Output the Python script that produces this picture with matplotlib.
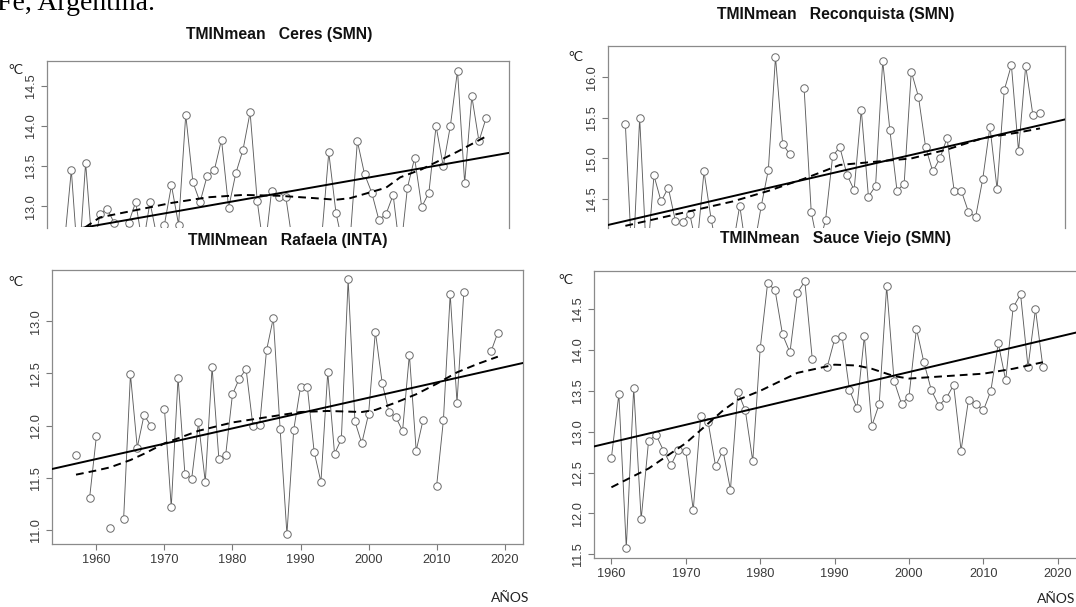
import numpy as np
import matplotlib
matplotlib.use("Agg")
import matplotlib.pyplot as plt

plt.rcParams["font.family"] = ["Liberation Sans", "DejaVu Sans"]

# ---- data (nan = year without a value) ----
ceres_years = np.arange(1960, 2020)
ceres_vals = [12.50, 13.45, 12.20, 13.54, 12.40, 12.90, 12.97, 12.79, 12.60, 12.79,
              13.05, 12.50, 13.05, 12.60, 12.76, 13.26, 12.77, 14.14, 13.30, 13.05,
              13.38, 13.45, 13.83, 12.98, 13.41, 13.70, 14.17, 13.06, 12.40, 13.19,
              13.11, 13.11, 12.50, 12.40, 12.60, 12.30, 12.60, 13.67, 12.92, 12.50,
              12.60, 13.81, 13.40, 13.17, 12.83, 12.90, 13.14, 12.40, 13.23, 13.60,
              12.99, 13.17, 14.00, 13.50, 14.00, 14.69, 13.29, 14.37, 13.81, 14.10]
ceres_smooth_years = [1960, 1963, 1965, 1970, 1975, 1980, 1985, 1990, 1995, 1998,
                      2000, 2005, 2007, 2010, 2015, 2019]
ceres_smooth_vals = [12.55, 12.74, 12.86, 12.95, 13.04, 13.11, 13.14, 13.13, 13.10, 13.08,
                     13.10, 13.23, 13.36, 13.46, 13.68, 13.87]
ceres_trend = [12.69, 13.63]  # trend value at 1960 and 2020

recon_years = np.arange(1960, 2019)
recon_vals = [15.42, 13.60, 15.50, 13.70, 14.79, 14.47, 14.64, 14.23, 14.22, 14.32,
              13.90, 14.84, 14.25, 13.80, 14.00, 13.90, 14.42, 13.80, 13.90, 14.41,
              14.86, 16.25, 15.18, 15.05, np.nan, 15.87, 14.34, 13.90, 14.24, 15.03,
              15.14, 14.80, 14.61, 15.60, 14.53, 14.66, 16.20, 15.35, 14.60, 14.69,
              16.07, 15.76, 15.14, 14.84, 15.00, 15.25, 14.60, 14.60, 14.34, 14.28,
              14.75, 15.39, 14.62, 15.84, 16.15, 15.09, 16.14, 15.54, 15.56]
recon_smooth_years = [1960, 1965, 1970, 1975, 1980, 1985, 1990, 1995, 2000, 2005,
                      2010, 2015, 2018]
recon_smooth_vals = [14.17, 14.27, 14.37, 14.47, 14.60, 14.75, 14.92, 14.96, 15.00, 15.11,
                     15.25, 15.32, 15.37]
recon_trend = [14.23, 15.45]

rafa_years = np.arange(1957, 2020)
rafa_vals = [11.72, np.nan, 11.31, 11.90, np.nan, 11.02, np.nan, 11.11, 12.49, 11.79,
             12.10, 12.00, np.nan, 12.16, 11.22, 12.46, 11.54, 11.49, 12.03, 11.46,
             12.56, 11.68, 11.72, 12.30, 12.45, 12.54, 12.00, 12.01, 12.72, 13.03,
             11.97, 10.96, 11.96, 12.37, 12.37, 11.75, 11.46, 12.51, 11.73, 11.87,
             13.40, 12.04, 11.83, 12.11, 12.90, 12.41, 12.13, 12.08, 11.95, 12.68,
             11.76, 12.05, np.nan, 11.42, 12.05, 13.26, 12.22, 13.28, np.nan, np.nan,
             np.nan, 12.71, 12.89]
rafa_smooth_years = [1957, 1960, 1962, 1965, 1967, 1970, 1975, 1980, 1985, 1990,
                     1994, 1999, 2001, 2004, 2007, 2010, 2013, 2016, 2019]
rafa_smooth_vals = [11.53, 11.57, 11.60, 11.67, 11.73, 11.83, 11.95, 12.03, 12.08, 12.13,
                    12.14, 12.13, 12.15, 12.22, 12.30, 12.40, 12.51, 12.59, 12.66]
rafa_trend = [11.68, 12.56]

sauce_years = np.arange(1960, 2019)
sauce_vals = [12.68, 13.46, 11.58, 13.54, 11.93, 12.89, 12.96, 12.77, 12.59, 12.78,
              12.77, 12.04, 13.19, 13.12, 12.58, 12.77, 12.29, 13.49, 13.26, 12.64,
              14.02, 14.82, 14.73, 14.19, 13.97, 14.70, 14.84, 13.89, np.nan, 13.79,
              14.13, 14.17, 13.51, 13.29, 14.17, 13.07, 13.34, 14.78, 13.62, 13.34,
              13.43, 14.26, 13.85, 13.51, 13.32, 13.41, 13.57, 12.77, 13.39, 13.34,
              13.26, 13.50, 14.08, 13.63, 14.52, 14.68, 13.79, 14.50, 13.79]
sauce_smooth_years = [1960, 1965, 1970, 1975, 1977, 1980, 1985, 1990, 1993, 1995,
                      1998, 2000, 2005, 2010, 2014, 2018]
sauce_smooth_vals = [12.32, 12.55, 12.86, 13.26, 13.39, 13.50, 13.72, 13.82, 13.81, 13.77,
                     13.68, 13.65, 13.68, 13.71, 13.77, 13.85]
sauce_trend = [12.87, 14.16]

W, H = 1076, 607
fig = plt.figure(figsize=(W / 100, H / 100), dpi=100)
fig.patch.set_facecolor("white")


def px_axes(l, t, r, b):
    return fig.add_axes([l / W, 1 - b / H, (r - l) / W, (b - t) / H])


def fig_text(x, y, s, **kw):
    fig.text(x / W, 1 - y / H, s, **kw)


def panel(ax, years, vals, sm_years, sm_vals, trend, xlim, ylim, yticks, cut=False):
    ax.plot(years, vals, color="#5e5e5e", lw=0.65, zorder=2)
    ax.plot(years, vals, ls="none", marker="o", ms=5.4, mfc="white",
            mec="#6a6a6a", mew=0.7, zorder=3)
    # linear trend, drawn across the whole frame
    slope = (trend[1] - trend[0]) / 60.0
    tx = np.array(xlim)
    ax.plot(tx, trend[0] + slope * (tx - 1960), color="black", lw=1.4, zorder=4)
    ax.plot(sm_years, sm_vals, color="black", lw=1.4, ls=(0, (4, 2.6)), zorder=4)
    ax.set_xlim(xlim)
    ax.set_ylim(ylim)
    ax.set_yticks(yticks)
    ax.set_yticklabels([f"{v:.1f}" for v in yticks])
    for lab in ax.get_yticklabels():
        lab.set_rotation(90)
        lab.set_va("center")
    ax.tick_params(direction="out", length=4.2, width=0.8, color="#7a7a7a",
                   labelcolor="#3a3a3a", labelsize=9.2, pad=3.0)
    for sp in ax.spines.values():
        sp.set_color("#8a8a8a")
        sp.set_linewidth(0.9)
    if cut:
        ax.spines["bottom"].set_visible(False)
        ax.set_xticks([])
    else:
        ax.set_xticks(np.arange(1960, 2021, 10))


ax1 = px_axes(47, 61, 509, 227.5)
panel(ax1, ceres_years, ceres_vals, ceres_smooth_years, ceres_smooth_vals, ceres_trend,
      (1957.6, 2022.2), (12.734, 14.81), [13.0, 13.5, 14.0, 14.5], cut=True)

ax2 = px_axes(608, 46, 1065, 227.7)
panel(ax2, recon_years, recon_vals, recon_smooth_years, recon_smooth_vals, recon_trend,
      (1957.57, 2021.5), (14.147, 16.385), [14.5, 15.0, 15.5, 16.0], cut=True)

ax3 = px_axes(52, 270, 523, 544)
panel(ax3, rafa_years, rafa_vals, rafa_smooth_years, rafa_smooth_vals, rafa_trend,
      (1953.47, 2022.7), (10.866, 13.49), [11.0, 11.5, 12.0, 12.5, 13.0])

ax4 = px_axes(594, 271, 1092, 558)
panel(ax4, sauce_years, sauce_vals, sauce_smooth_years, sauce_smooth_vals, sauce_trend,
      (1957.66, 2024.6), (11.455, 14.966), [11.5, 12.0, 12.5, 13.0, 13.5, 14.0, 14.5])

# titles and labels
tkw = dict(ha="center", va="center", fontsize=11.3, fontweight="bold", color="#111111")
fig_text(279, 34, "TMINmean   Ceres (SMN)", **tkw)
fig_text(836, 15, "TMINmean   Reconquista (SMN)", **tkw)
fig_text(288, 240, "TMINmean   Rafaela (INTA)", **tkw)
fig_text(836, 239, "TMINmean   Sauce Viejo (SMN)", **tkw)

lkw = dict(ha="center", va="center", fontsize=10, color="#222222", family=["Lato", "DejaVu Sans"])
fig_text(16, 70, "°C", **lkw)
fig_text(576, 57, "°C", **lkw)
fig_text(16, 282, "°C", **lkw)
fig_text(566, 280, "°C", **lkw)
fig_text(510, 598, "AÑOS", **lkw)
fig_text(1056, 599, "AÑOS", **lkw)

# caption fragment, cut off at the top of the page as in the source
fig.text(-3 / W, 1 - 10 / H, "Fe, Argentina.", ha="left", va="baseline",
         fontsize=20, family=["Liberation Serif", "DejaVu Serif"], color="black")

fig.savefig("out.png", dpi=100)
